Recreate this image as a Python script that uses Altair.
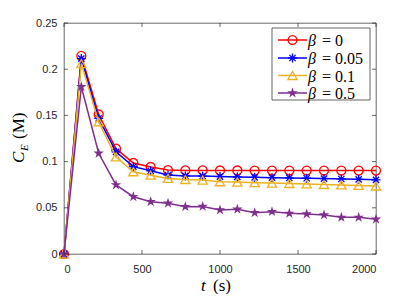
import altair as alt
import pandas as pd

# ---- data ----
t_values = [0, 111.1, 222.2, 333.3, 444.4, 555.6, 666.7, 777.8, 888.9, 1000,
            1111.1, 1222.2, 1333.3, 1444.4, 1555.6, 1666.7, 1777.8, 1888.9, 2000]
beta_labels = ["0", "0.05", "0.1", "0.5"]
ce_beta_0 = [0, 0.2145, 0.1510, 0.1140, 0.0985, 0.0942, 0.0908, 0.0905, 0.0905, 0.0904,
             0.0904, 0.0903, 0.0903, 0.0903, 0.0903, 0.0903, 0.0903, 0.0903, 0.0903]
ce_beta_005 = [0, 0.2115, 0.1468, 0.1105, 0.0945, 0.0900, 0.0855, 0.0845, 0.0843, 0.0838,
               0.0834, 0.0830, 0.0826, 0.0823, 0.0820, 0.0816, 0.0812, 0.0808, 0.0803]
ce_beta_01 = [0, 0.2060, 0.1430, 0.1050, 0.0890, 0.0853, 0.0818, 0.0806, 0.0800, 0.0782,
              0.0778, 0.0772, 0.0768, 0.0763, 0.0758, 0.0752, 0.0748, 0.0742, 0.0736]
ce_beta_05 = [0, 0.1810, 0.1090, 0.0747, 0.0620, 0.0566, 0.0549, 0.0512, 0.0515, 0.0476,
              0.0484, 0.0447, 0.0458, 0.0440, 0.0433, 0.0422, 0.0397, 0.0397, 0.0376]
x_ticks = [0, 500, 1000, 1500, 2000]
y_ticks = [0, 0.05, 0.1, 0.15, 0.2, 0.25]

series = [ce_beta_0, ce_beta_005, ce_beta_01, ce_beta_05]
colors = ["#FF0000", "#0000FF", "#EDB120", "#7E2F8E"]

CIRCLE = "circle"
ASTER = "M0,-1V1M-1,0H1M-0.7,-0.7L0.7,0.7M-0.7,0.7L0.7,-0.7"
TRI = "triangle-up"
STAR = ("M0,-1L0.2245,-0.309L0.951,-0.309L0.363,0.118L0.588,0.809L0,0.382"
        "L-0.588,0.809L-0.363,0.118L-0.951,-0.309L-0.2245,-0.309Z")
shapes = [CIRCLE, ASTER, TRI, STAR]
sizes = [80, 80, 85, 120]
filled = [False, False, False, True]

rows = []
for lab, vals in zip(beta_labels, series):
    for tv, v in zip(t_values, vals):
        rows.append({"t": tv, "ce": v, "beta": lab})
df = pd.DataFrame(rows)

W, H = 312, 231
AX = "#262626"
xs = alt.Scale(domain=[0, 2000], nice=False, zero=False)
ys = alt.Scale(domain=[0, 0.25], nice=False, zero=False)

x_axis = alt.Axis(values=x_ticks, format="d", tickSize=0, domain=False, grid=False,
                  labelFont="Liberation Sans", labelFontSize=11, labelColor=AX,
                  labelPadding=9, title=None)
y_axis = alt.Axis(values=y_ticks, format="~g", tickSize=0, domain=False, grid=False,
                  labelFont="Liberation Sans", labelFontSize=11, labelColor=AX,
                  labelPadding=7, title=None)


def X(field):
    return alt.X(field, scale=xs, axis=x_axis)


def Y(field):
    return alt.Y(field, scale=ys, axis=y_axis)


layers = []
for i, lab in enumerate(beta_labels):
    base = alt.Chart(df).transform_filter(alt.datum.beta == lab)
    layers.append(base.mark_line(color=colors[i], strokeWidth=1.5).encode(x=X("t:Q"), y=Y("ce:Q")))
    layers.append(base.mark_point(shape=shapes[i], size=sizes[i], filled=filled[i],
                                  color=colors[i], strokeWidth=1.3, opacity=1)
                  .encode(x=X("t:Q"), y=Y("ce:Q")))

# inward ticks on all four sides
xt = pd.DataFrame({"t": x_ticks})
yt = pd.DataFrame({"ce": y_ticks})
for y0, y1 in [(H, H - 4), (0, 4)]:
    layers.append(alt.Chart(xt).mark_rule(color=AX, strokeWidth=0.7).encode(
        x=X("t:Q"), y=alt.value(y0), y2=alt.value(y1)))
for x0, x1 in [(0, 4), (W, W - 4)]:
    layers.append(alt.Chart(yt).mark_rule(color=AX, strokeWidth=0.7).encode(
        y=Y("ce:Q"), x=alt.value(x0), x2=alt.value(x1)))

one = pd.DataFrame({"a": [0]})

# legend (manual, MATLAB style)
LX0, LX1, LY0, LY1 = 208, 306, 5, 77
layers.append(alt.Chart(one).mark_rect(fill="white", stroke=AX, strokeWidth=0.7).encode(
    x=alt.value(LX0), x2=alt.value(LX1), y=alt.value(LY0), y2=alt.value(LY1)))
row_y = [17, 35, 52.5, 70]
for i, lab in enumerate(beta_labels):
    yy = row_y[i]
    layers.append(alt.Chart(one).mark_rule(color=colors[i], strokeWidth=1.5).encode(
        x=alt.value(214), x2=alt.value(243), y=alt.value(yy)))
    layers.append(alt.Chart(one).mark_point(shape=shapes[i], size=sizes[i], filled=filled[i],
                                            color=colors[i], strokeWidth=1.3, opacity=1).encode(
        x=alt.value(228.5), y=alt.value(yy)))
    layers.append(alt.Chart(one).mark_text(text="β", font="Liberation Serif", fontStyle="italic",
                                           fontSize=16, align="left", baseline="middle",
                                           color="black").encode(
        x=alt.value(244), y=alt.value(yy + 1)))
    layers.append(alt.Chart(one).mark_text(text="= " + lab, font="Liberation Serif",
                                           fontSize=16, align="left", baseline="middle",
                                           color="black").encode(
        x=alt.value(258), y=alt.value(yy + 1)))

# x-axis title: t (s)
layers.append(alt.Chart(one).mark_text(text="t", font="Liberation Serif", fontStyle="italic",
                                       fontSize=17, align="left", baseline="alphabetic",
                                       color="black").encode(x=alt.value(137), y=alt.value(268)))
layers.append(alt.Chart(one).mark_text(text="(s)", font="Liberation Serif",
                                       fontSize=17, align="left", baseline="alphabetic",
                                       color="black").encode(x=alt.value(149), y=alt.value(268)))

# y-axis title: C_E (M), rotated
layers.append(alt.Chart(one).mark_text(text="C", font="Liberation Serif", fontStyle="italic",
                                       fontSize=17, angle=270, align="left", baseline="alphabetic",
                                       color="black").encode(x=alt.value(-40), y=alt.value(140)))
layers.append(alt.Chart(one).mark_text(text="E", font="Liberation Serif", fontStyle="italic",
                                       fontSize=11, angle=270, align="left", baseline="alphabetic",
                                       color="black").encode(x=alt.value(-36), y=alt.value(128)))
layers.append(alt.Chart(one).mark_text(text="(M)", font="Liberation Serif",
                                       fontSize=17, angle=270, align="left", baseline="alphabetic",
                                       color="black").encode(x=alt.value(-40), y=alt.value(116)))

chart = alt.layer(*layers).properties(
    width=W, height=H,
    autosize=alt.AutoSizeParams(type="none"),
    padding={"left": 56, "top": 15, "right": 20, "bottom": 40},
    background="white",
).configure_view(stroke=AX, strokeWidth=0.7)

chart.save("out.html", embed_options={"renderer": "svg", "actions": False})
